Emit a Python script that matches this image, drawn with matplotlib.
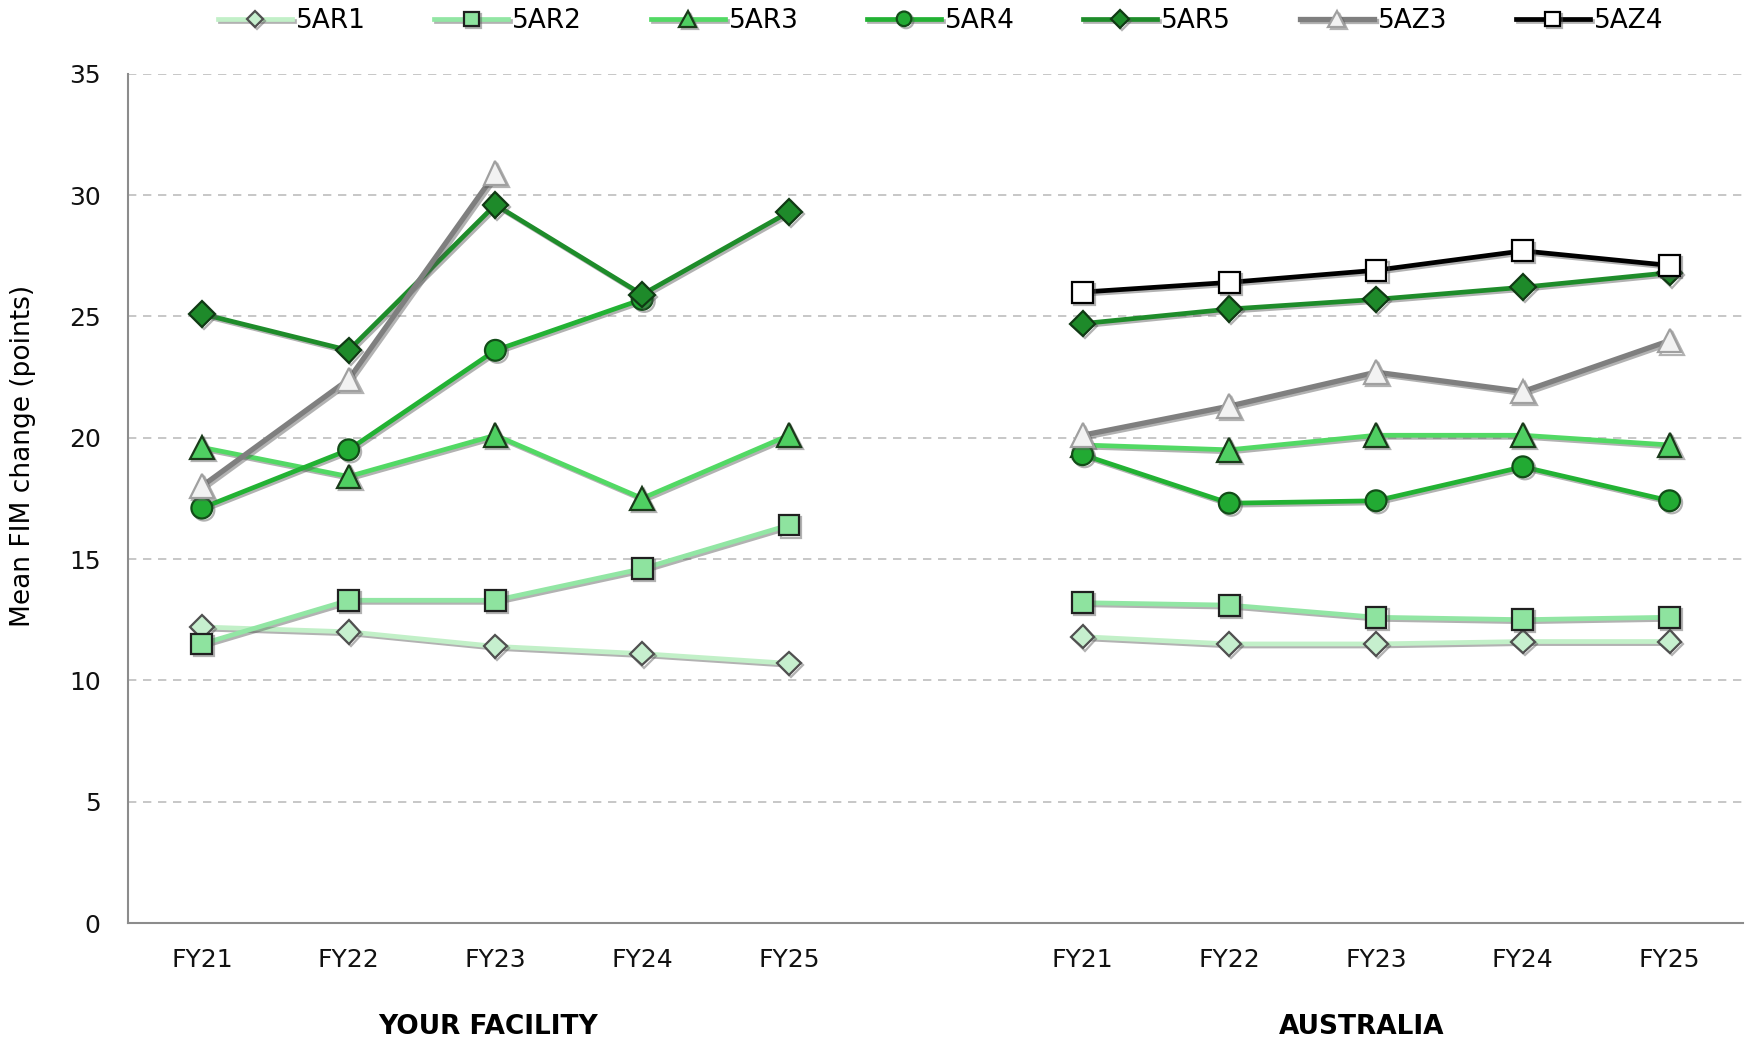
import numpy as np
import matplotlib
matplotlib.use("Agg")
import matplotlib.pyplot as plt
import matplotlib.patheffects as pe

plt.rcParams['font.family'] = ['DejaVu Sans']

years = ["FY21", "FY22", "FY23", "FY24", "FY25"]
groups = ["YOUR FACILITY", "AUSTRALIA"]
series_names = ["5AR1", "5AR2", "5AR3", "5AR4", "5AR5", "5AZ3", "5AZ4"]

nan = np.nan
ar1_fac = [12.2, 12.0, 11.4, 11.1, 10.7]
ar1_aus = [11.8, 11.5, 11.5, 11.6, 11.6]
ar2_fac = [11.5, 13.3, 13.3, 14.6, 16.4]
ar2_aus = [13.2, 13.1, 12.6, 12.5, 12.6]
ar3_fac = [19.6, 18.4, 20.1, 17.5, 20.1]
ar3_aus = [19.7, 19.5, 20.1, 20.1, 19.7]
ar4_fac = [17.1, 19.5, 23.6, 25.7, nan]
ar4_aus = [19.3, 17.3, 17.4, 18.8, 17.4]
ar5_fac = [25.1, 23.6, 29.6, 25.9, 29.3]
ar5_aus = [24.7, 25.3, 25.7, 26.2, 26.8]
az3_fac = [18.0, 22.4, 30.9, nan, nan]
az3_aus = [20.1, 21.3, 22.7, 21.9, 24.0]
az4_fac = [nan, nan, nan, nan, nan]
az4_aus = [26.0, 26.4, 26.9, 27.7, 27.1]

fac_data = [ar1_fac, ar2_fac, ar3_fac, ar4_fac, ar5_fac, az3_fac, az4_fac]
aus_data = [ar1_aus, ar2_aus, ar3_aus, ar4_aus, ar5_aus, az3_aus, az4_aus]

styles = [
    dict(color="#c2f0c8", marker="D", mfc="#c6efce", mec="#505050", ms=12, lw=3.4),
    dict(color="#92e6a4", marker="s", mfc="#8ee39f", mec="#202020", ms=15, lw=3.4),
    dict(color="#52d964", marker="^", mfc="#4fcf62", mec="#1a3a1a", ms=17, lw=3.4),
    dict(color="#22b233", marker="o", mfc="#22aa33", mec="#124d18", ms=15, lw=3.4),
    dict(color="#1e8c2a", marker="D", mfc="#1e8a2a", mec="#103a14", ms=13, lw=3.4),
    dict(color="#7f7f7f", marker="^", mfc="#f2f2f2", mec="#a0a0a0", ms=17, lw=3.8),
    dict(color="#000000", marker="s", mfc="#ffffff", mec="#000000", ms=15, lw=3.4),
]

labels = years + [""] + years
x = np.arange(len(labels))

fig = plt.figure(figsize=(17.5, 10.44), dpi=100)
ax = fig.add_axes([0.0734, 0.1159, 0.9226, 0.8135])

shadow = [pe.SimpleLineShadow(offset=(1.5, -1.5), shadow_color="#555555", alpha=0.45), pe.Normal()]

handles = []
for name, fac, aus, st in zip(series_names, fac_data, aus_data, styles):
    vals = list(fac) + [nan] + list(aus)
    line, = ax.plot(x, vals, color=st["color"], lw=st["lw"], marker=st["marker"],
                    markerfacecolor=st["mfc"], markeredgecolor=st["mec"],
                    markeredgewidth=1.6, markersize=st["ms"], label=name,
                    path_effects=shadow)
    handles.append(line)

ax.set_xlim(-0.5, len(labels) - 0.5)
ax.set_ylim(0, 35)
ax.set_yticks(np.arange(0, 36, 5))
ax.set_xticks(x)
ax.set_xticklabels(labels)
ax.tick_params(axis="both", length=0, labelsize=18, colors="#111111")
ax.tick_params(axis="x", pad=18)
ax.tick_params(axis="y", pad=20)
ax.yaxis.grid(True, linestyle=(0, (5, 4)), color="#bdbdbd", linewidth=1.2)
ax.set_axisbelow(True)
for s in ["top", "right"]:
    ax.spines[s].set_visible(False)
for s in ["left", "bottom"]:
    ax.spines[s].set_color("#8c8c8c")
    ax.spines[s].set_linewidth(1.5)

ax.set_ylabel("Mean FIM change (points)", fontsize=19)
ax.yaxis.set_label_coords(-0.057, 0.55)

fig.text(ax.transData.transform((1.95, 0))[0] / fig.bbox.width, 0.004, groups[0],
         ha="center", va="bottom", fontsize=19, fontweight="bold")
fig.text(ax.transData.transform((7.9, 0))[0] / fig.bbox.width, 0.004, groups[1],
         ha="center", va="bottom", fontsize=19, fontweight="bold")

leg = ax.legend(handles=handles, loc="center", bbox_to_anchor=(0.503, 1.062),
                ncol=7, frameon=False, fontsize=19, markerscale=0.7,
                handlelength=2.8, columnspacing=2.6, handletextpad=0.15)

fig.savefig("out.png", dpi=100)
